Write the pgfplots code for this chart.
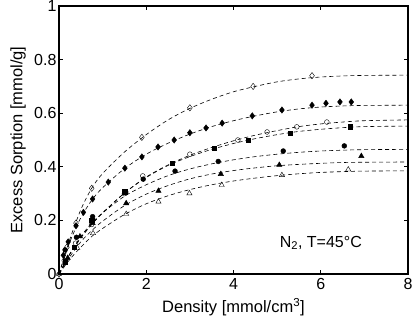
\documentclass[border=0pt]{standalone}
\usepackage{pgfplots}
\pgfplotsset{compat=1.18}
\usepackage{fontspec}
\setmainfont{Liberation Sans}
\begin{document}
\begin{tikzpicture}
\path[use as bounding box] (-59pt,-48pt) rectangle (360pt,274pt);
\begin{axis}[
  at={(0pt,0pt)}, anchor=south west,
  scale only axis, width=349pt, height=268pt,
  xmin=0, xmax=8, ymin=0, ymax=1,
  xtick={0,2,4,6,8}, ytick={0,0.2,0.4,0.6,0.8,1},
  yticklabels={0,0.2,0.4,0.6,0.8,1},
  tick align=inside, major tick length=4pt,
  axis line style={line width=1.4pt},
  every tick/.style={black, line width=0.7pt},
  /pgf/number format/assume math mode=true,
  tick label style={font=\fontsize{16}{18}\selectfont},
  yticklabel style={xshift=1pt},
  label style={font=\fontsize{16.5}{19}\selectfont},
  xlabel={Density [mmol/cm\textsuperscript{3}]},
  ylabel={Excess Sorption [mmol/g]},
  xlabel style={at={(axis description cs:0.5,-0.123)}, anchor=center},
  ylabel style={at={(axis description cs:-0.1175,0.5)}, anchor=center},
  xticklabel style={yshift=-1pt},
  clip=false,
  mark options={solid, line width=0.5pt},
]
% dashed fit curves
\pgfplotsset{fit/.style={black, dashed, dash pattern=on 4pt off 3pt, line width=0.6pt, smooth, no marks}}
\addplot[fit] coordinates {(0,0)(0.25,0.13)(0.5,0.24)(0.75,0.32)(1,0.375)(1.5,0.455)(2,0.52)(2.5,0.575)(3,0.618)(3.5,0.652)(4,0.68)(4.5,0.70)(5,0.717)(5.5,0.728)(6,0.735)(6.5,0.739)(7,0.741)(8,0.742)};
\addplot[fit] coordinates {(0,0)(0.25,0.12)(0.5,0.21)(0.75,0.275)(1,0.322)(1.5,0.393)(2,0.447)(2.5,0.488)(3,0.522)(3.5,0.55)(4,0.572)(4.5,0.59)(5,0.605)(5.5,0.616)(6,0.623)(6.5,0.627)(7,0.629)(8,0.63)};
\addplot[fit] coordinates {(0,0)(0.25,0.075)(0.5,0.135)(0.75,0.185)(1,0.228)(1.5,0.302)(2,0.362)(2.5,0.407)(3,0.443)(3.5,0.472)(4,0.497)(4.5,0.518)(5,0.535)(5.5,0.55)(6,0.56)(6.5,0.567)(7,0.572)(8,0.575)};
\addplot[fit] coordinates {(0,0)(0.25,0.075)(0.5,0.135)(0.75,0.185)(1,0.228)(1.5,0.302)(2,0.36)(2.5,0.405)(3,0.438)(3.5,0.465)(4,0.487)(4.5,0.505)(5,0.52)(5.5,0.532)(6,0.54)(6.5,0.546)(7,0.55)(8,0.552)};
\addplot[fit] coordinates {(0,0)(0.25,0.075)(0.5,0.14)(0.75,0.19)(1,0.228)(1.5,0.29)(2,0.333)(2.5,0.367)(3,0.392)(3.5,0.411)(4,0.426)(4.5,0.438)(5,0.447)(5.5,0.454)(6,0.459)(6.5,0.462)(7,0.464)(8,0.465)};
\addplot[fit] coordinates {(0,0)(0.25,0.065)(0.5,0.12)(0.75,0.162)(1,0.197)(1.5,0.255)(2,0.298)(2.5,0.33)(3,0.355)(3.5,0.373)(4,0.386)(4.5,0.396)(5,0.404)(5.5,0.409)(6,0.413)(6.5,0.416)(7,0.417)(8,0.418)};
\addplot[fit] coordinates {(0,0)(0.25,0.055)(0.5,0.1)(0.75,0.14)(1,0.17)(1.5,0.222)(2,0.262)(2.5,0.292)(3,0.315)(3.5,0.333)(4,0.347)(4.5,0.358)(5,0.367)(5.5,0.374)(6,0.379)(6.5,0.382)(7,0.384)(8,0.385)};
% data markers
\addplot[only marks, mark=diamond, mark size=3.2pt, mark options={fill=white}] coordinates {(0,0)(0.18,0.1)(0.39,0.19)(0.75,0.32)(1.9,0.51)(3.0,0.62)(4.45,0.70)(5.8,0.74)};
\addplot[only marks, mark=diamond*, mark size=3.2pt, mark options={fill=black}] coordinates {(0.1,0.07)(0.21,0.12)(0.39,0.18)(0.56,0.23)(0.77,0.28)(1.13,0.343)(1.51,0.395)(1.9,0.437)(2.27,0.474)(2.64,0.50)(3.0,0.527)(3.37,0.545)(3.74,0.563)(4.43,0.59)(5.11,0.612)(5.8,0.63)(6.12,0.637)(6.44,0.642)(6.7,0.642)};
\addplot[only marks, mark=o, mark size=2.4pt, mark options={fill=white}] coordinates {(0.12,0.05)(0.38,0.115)(0.75,0.185)(1.5,0.30)(1.92,0.366)(3.0,0.447)(4.1,0.50)(4.77,0.53)(5.45,0.549)(6.14,0.567)};
\addplot[only marks, mark=square*, mark size=2.2pt] coordinates {(0.15,0.045)(0.35,0.1)(0.75,0.2)(1.51,0.307)(2.59,0.413)(3.56,0.47)(4.34,0.50)(5.3,0.525)(6.67,0.549)};
\addplot[only marks, mark=*, mark size=2.4pt] coordinates {(0.14,0.09)(0.4,0.137)(0.77,0.214)(1.53,0.306)(1.93,0.354)(2.66,0.384)(3.65,0.42)(5.14,0.459)(6.54,0.478)};
\addplot[only marks, mark=triangle*, mark size=3pt] coordinates {(0.2,0.06)(0.48,0.14)(0.77,0.19)(1.54,0.264)(2.28,0.31)(3.71,0.373)(5.05,0.407)(6.93,0.44)};
\addplot[only marks, mark=triangle, mark size=3pt, mark options={fill=white}] coordinates {(0,0)(0.42,0.097)(0.78,0.152)(1.54,0.224)(2.28,0.27)(2.99,0.301)(3.73,0.332)(5.11,0.369)(6.63,0.39)};
\node[anchor=west, font=\fontsize{16}{18}\selectfont] at (axis cs:4.98,0.116) {N\textsubscript{2}, T=45°C};
\end{axis}
\end{tikzpicture}
\end{document}
